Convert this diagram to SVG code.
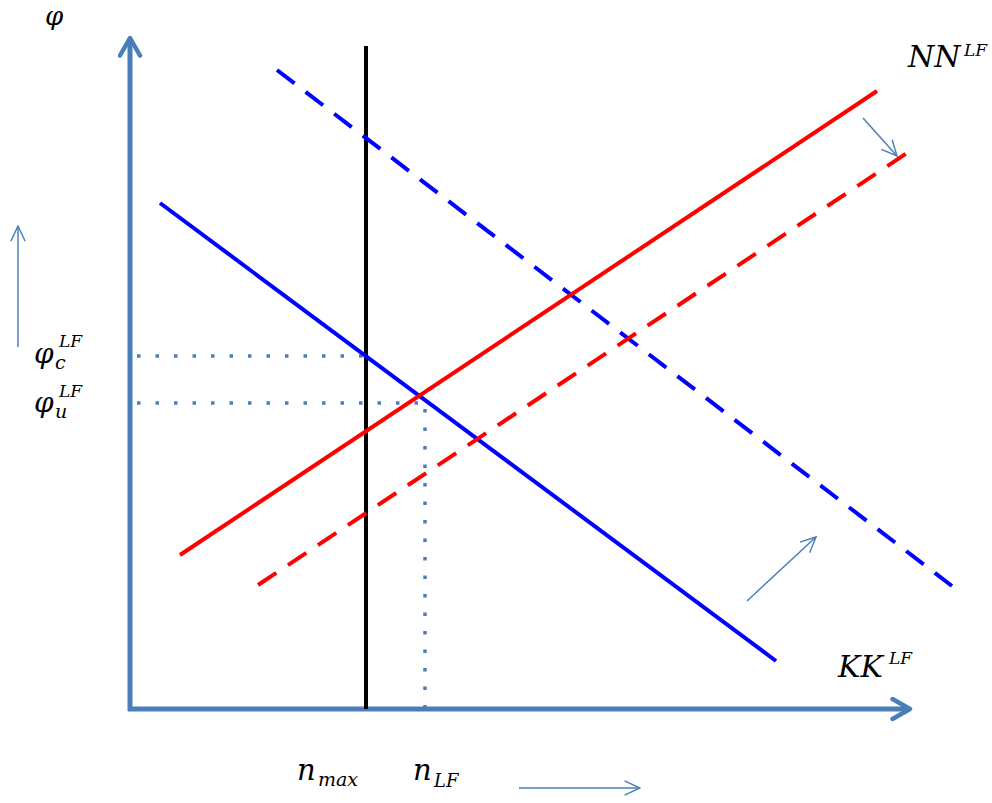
<svg xmlns="http://www.w3.org/2000/svg" width="992" height="803" viewBox="0 0 992 803">
<style>
.axis{stroke:#4A7EBB;stroke-width:5;fill:none}
.thin{stroke:#4A7EBB;stroke-width:1.5;fill:none}
.dot{stroke:#4A7EBB;stroke-width:3.5;fill:none;stroke-dasharray:3.5 15}
.blue{stroke:#0000FF;stroke-width:4;fill:none}
.red{stroke:#FF0000;stroke-width:4;fill:none}
.dash{stroke-dasharray:22 14}
.t{font-family:"DejaVu Serif","Liberation Serif",serif;font-style:italic;fill:#000}
</style>
<defs>
<marker id="big" viewBox="0 0 10 10" refX="8" refY="5" markerWidth="5" markerHeight="5" markerUnits="strokeWidth" orient="auto">
<path d="M1,1 L8,5 L1,9" fill="none" stroke="#4A7EBB" stroke-width="1.8" stroke-linecap="round" stroke-linejoin="round"/>
</marker>
<marker id="small" viewBox="0 0 20 20" refX="19" refY="10" markerWidth="12" markerHeight="12" markerUnits="strokeWidth" orient="auto">
<path d="M2,2 L19,10 L2,18" fill="none" stroke="#4A7EBB" stroke-width="1.6"/>
</marker>
</defs>
<g id="axes">
<line class="axis" x1="130" y1="711" x2="130" y2="38" marker-end="url(#big)"/>
<line class="axis" x1="128" y1="709" x2="910" y2="709" marker-end="url(#big)"/>
</g>
<g id="connectors">
<line class="dot" x1="137" y1="356" x2="366" y2="356"/>
<line class="dot" x1="137" y1="403" x2="425" y2="403"/>
<line class="dot" x1="425" y1="409" x2="425" y2="709"/>
<line x1="366" y1="46" x2="366" y2="709" stroke="#000" stroke-width="4"/>
<line class="blue" x1="160" y1="203" x2="776" y2="661"/>
<line class="blue dash" x1="277" y1="70" x2="952" y2="586"/>
<line class="red" x1="180" y1="555" x2="877" y2="91"/>
<line class="red dash" x1="258" y1="585" x2="907" y2="153"/>
<line class="thin" x1="18" y1="347" x2="18" y2="226" marker-end="url(#small)"/>
<line class="thin" x1="519" y1="788" x2="640" y2="788" marker-end="url(#small)"/>
<line class="thin" x1="747" y1="601" x2="816" y2="537" marker-end="url(#small)"/>
<line class="thin" x1="863" y1="118" x2="897" y2="156" marker-end="url(#small)"/>
</g>
<g id="labels">
<text class="t" x="45" y="25" font-size="26">φ</text>
<text class="t" x="34" y="363" font-size="28">φ</text>
<text class="t" x="55" y="369" font-size="19">c</text>
<text class="t" x="59" y="347" font-size="17">LF</text>
<text class="t" x="34" y="412" font-size="28">φ</text>
<text class="t" x="55" y="418" font-size="19">u</text>
<text class="t" x="59" y="397" font-size="17">LF</text>
<text class="t" x="297" y="780" font-size="29">n</text>
<text class="t" x="318" y="786" font-size="19">max</text>
<text class="t" x="413" y="780" font-size="29">n</text>
<text class="t" x="434" y="787" font-size="18">LF</text>
<text class="t" x="908" y="67" font-size="30">NN</text>
<text class="t" x="964" y="56" font-size="17">LF</text>
<text class="t" x="838" y="677" font-size="30">KK</text>
<text class="t" x="889" y="664" font-size="17">LF</text>
</g>
</svg>
